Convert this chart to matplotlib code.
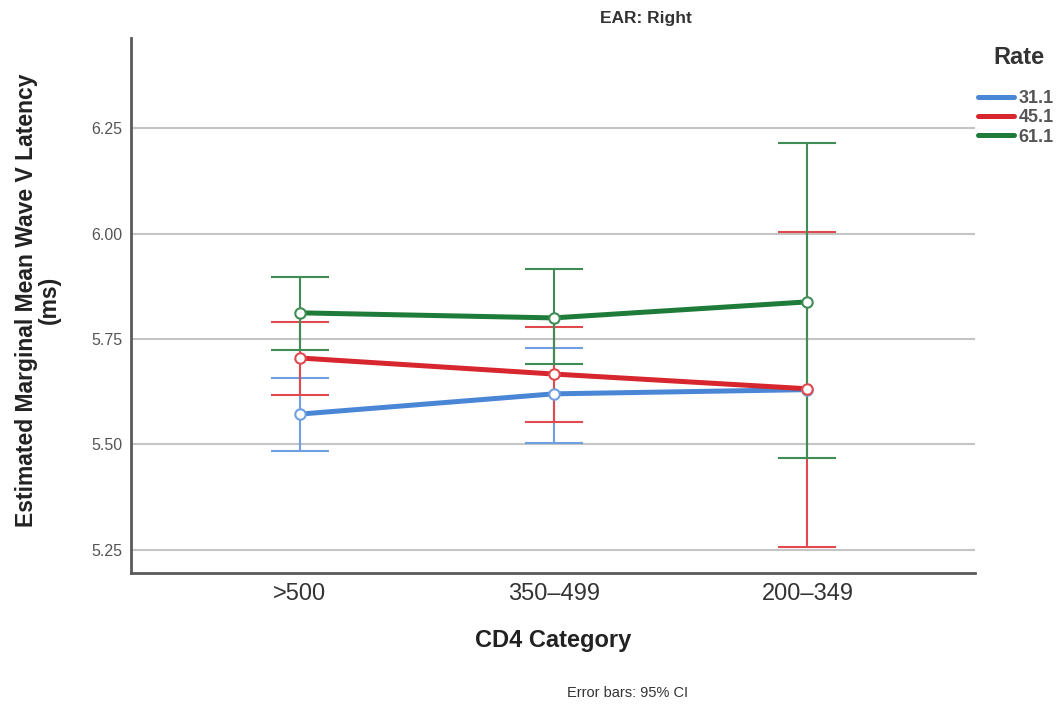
import numpy as np
import matplotlib.pyplot as plt

plt.rcParams['font.family'] = ['Liberation Sans', 'DejaVu Sans']

categories = ['>500', '350\u2013499', '200\u2013349']
rates = ['31.1', '45.1', '61.1']

mean_31 = [5.572, 5.620, 5.630]
lo_31 = [5.485, 5.504, np.nan]
hi_31 = [5.658, 5.729, np.nan]

mean_45 = [5.705, 5.667, 5.632]
lo_45 = [5.617, 5.553, 5.257]
hi_45 = [5.790, 5.778, 6.004]

mean_61 = [5.812, 5.800, 5.838]
lo_61 = [5.724, 5.691, 5.468]
hi_61 = [5.897, 5.916, 6.214]

yticks = [5.25, 5.50, 5.75, 6.00, 6.25]

line_colors = ['#4a86d6', '#d7262e', '#1e7b3a']
bar_colors = ['#6f9fe0', '#e04a4f', '#3f8c55']

fig = plt.figure(figsize=(10.6, 7.06), dpi=100)
ax = fig.add_axes([0.1236, 0.1884, 0.7962, 0.7576])

x = np.arange(len(categories))
series = [(mean_31, lo_31, hi_31), (mean_45, lo_45, hi_45), (mean_61, lo_61, hi_61)]

for yv in yticks:
    ax.axhline(yv, color='#c4c4c4', lw=1.5, zorder=0)

handles = []
for (m, lo, hi), lc, bc, r in zip(series, line_colors, bar_colors, rates):
    m = np.array(m)
    lo = np.array(lo)
    hi = np.array(hi)
    ok = ~np.isnan(lo)
    ax.errorbar(x[ok], m[ok], yerr=[m[ok] - lo[ok], hi[ok] - m[ok]], fmt='none',
                ecolor=bc, elinewidth=1.5, capsize=21, capthick=1.5, zorder=2)
    h, = ax.plot(x, m, color=lc, lw=3.6, zorder=3, solid_capstyle='round', label=r)
    ax.plot(x, m, 'o', ms=7.5, mfc='white', mec=bc, mew=1.5, zorder=4)
    handles.append(h)

ax.set_xlim(-0.665, 2.66)
ax.set_ylim(5.1955, 6.463)
ax.set_xticks(x)
ax.set_xticklabels(categories, fontsize=17, color='#333333')
ax.set_yticks(yticks)
ax.set_yticklabels(['%.2f' % v for v in yticks], fontsize=11.5, color='#555555')
ax.tick_params(axis='both', length=0)
ax.tick_params(axis='x', pad=7)
ax.tick_params(axis='y', pad=6)
for s in ['top', 'right']:
    ax.spines[s].set_visible(False)
for s in ['left', 'bottom']:
    ax.spines[s].set_color('#5a5a5a')
    ax.spines[s].set_linewidth(2)

ax.set_xlabel('CD4 Category', fontsize=17, fontweight='bold', color='#222222')
ax.xaxis.set_label_coords(0.5, -0.105)
ax.set_ylabel('Estimated Marginal Mean Wave V Latency\n(ms)', fontsize=16.5,
              fontweight='bold', color='#222222', linespacing=1.0)
ax.yaxis.set_label_coords(-0.083, 0.51)

fig.text(646 / 1060, 1 - 18 / 706, 'EAR: Right', fontsize=12.5, fontweight='bold',
         color='#333333', ha='center', va='center')

fig.text(1019 / 1060, 1 - 57 / 706, 'Rate', fontsize=17, fontweight='bold',
         color='#333333', ha='center', va='center')
leg = fig.legend(handles=handles, loc='center left',
                 bbox_to_anchor=(978 / 1060, 1 - 118 / 706),
                 frameon=False, fontsize=13, handlelength=2.0,
                 handletextpad=0.25, labelspacing=0.12, borderpad=0, borderaxespad=0)
for t in leg.get_texts():
    t.set_color('#555555')
    t.set_fontweight('bold')

fig.text(628 / 1060, 1 - 693 / 706, 'Error bars: 95% CI', fontsize=10.5,
         color='#333333', ha='center', va='center')

plt.savefig('out.png', dpi=100)
